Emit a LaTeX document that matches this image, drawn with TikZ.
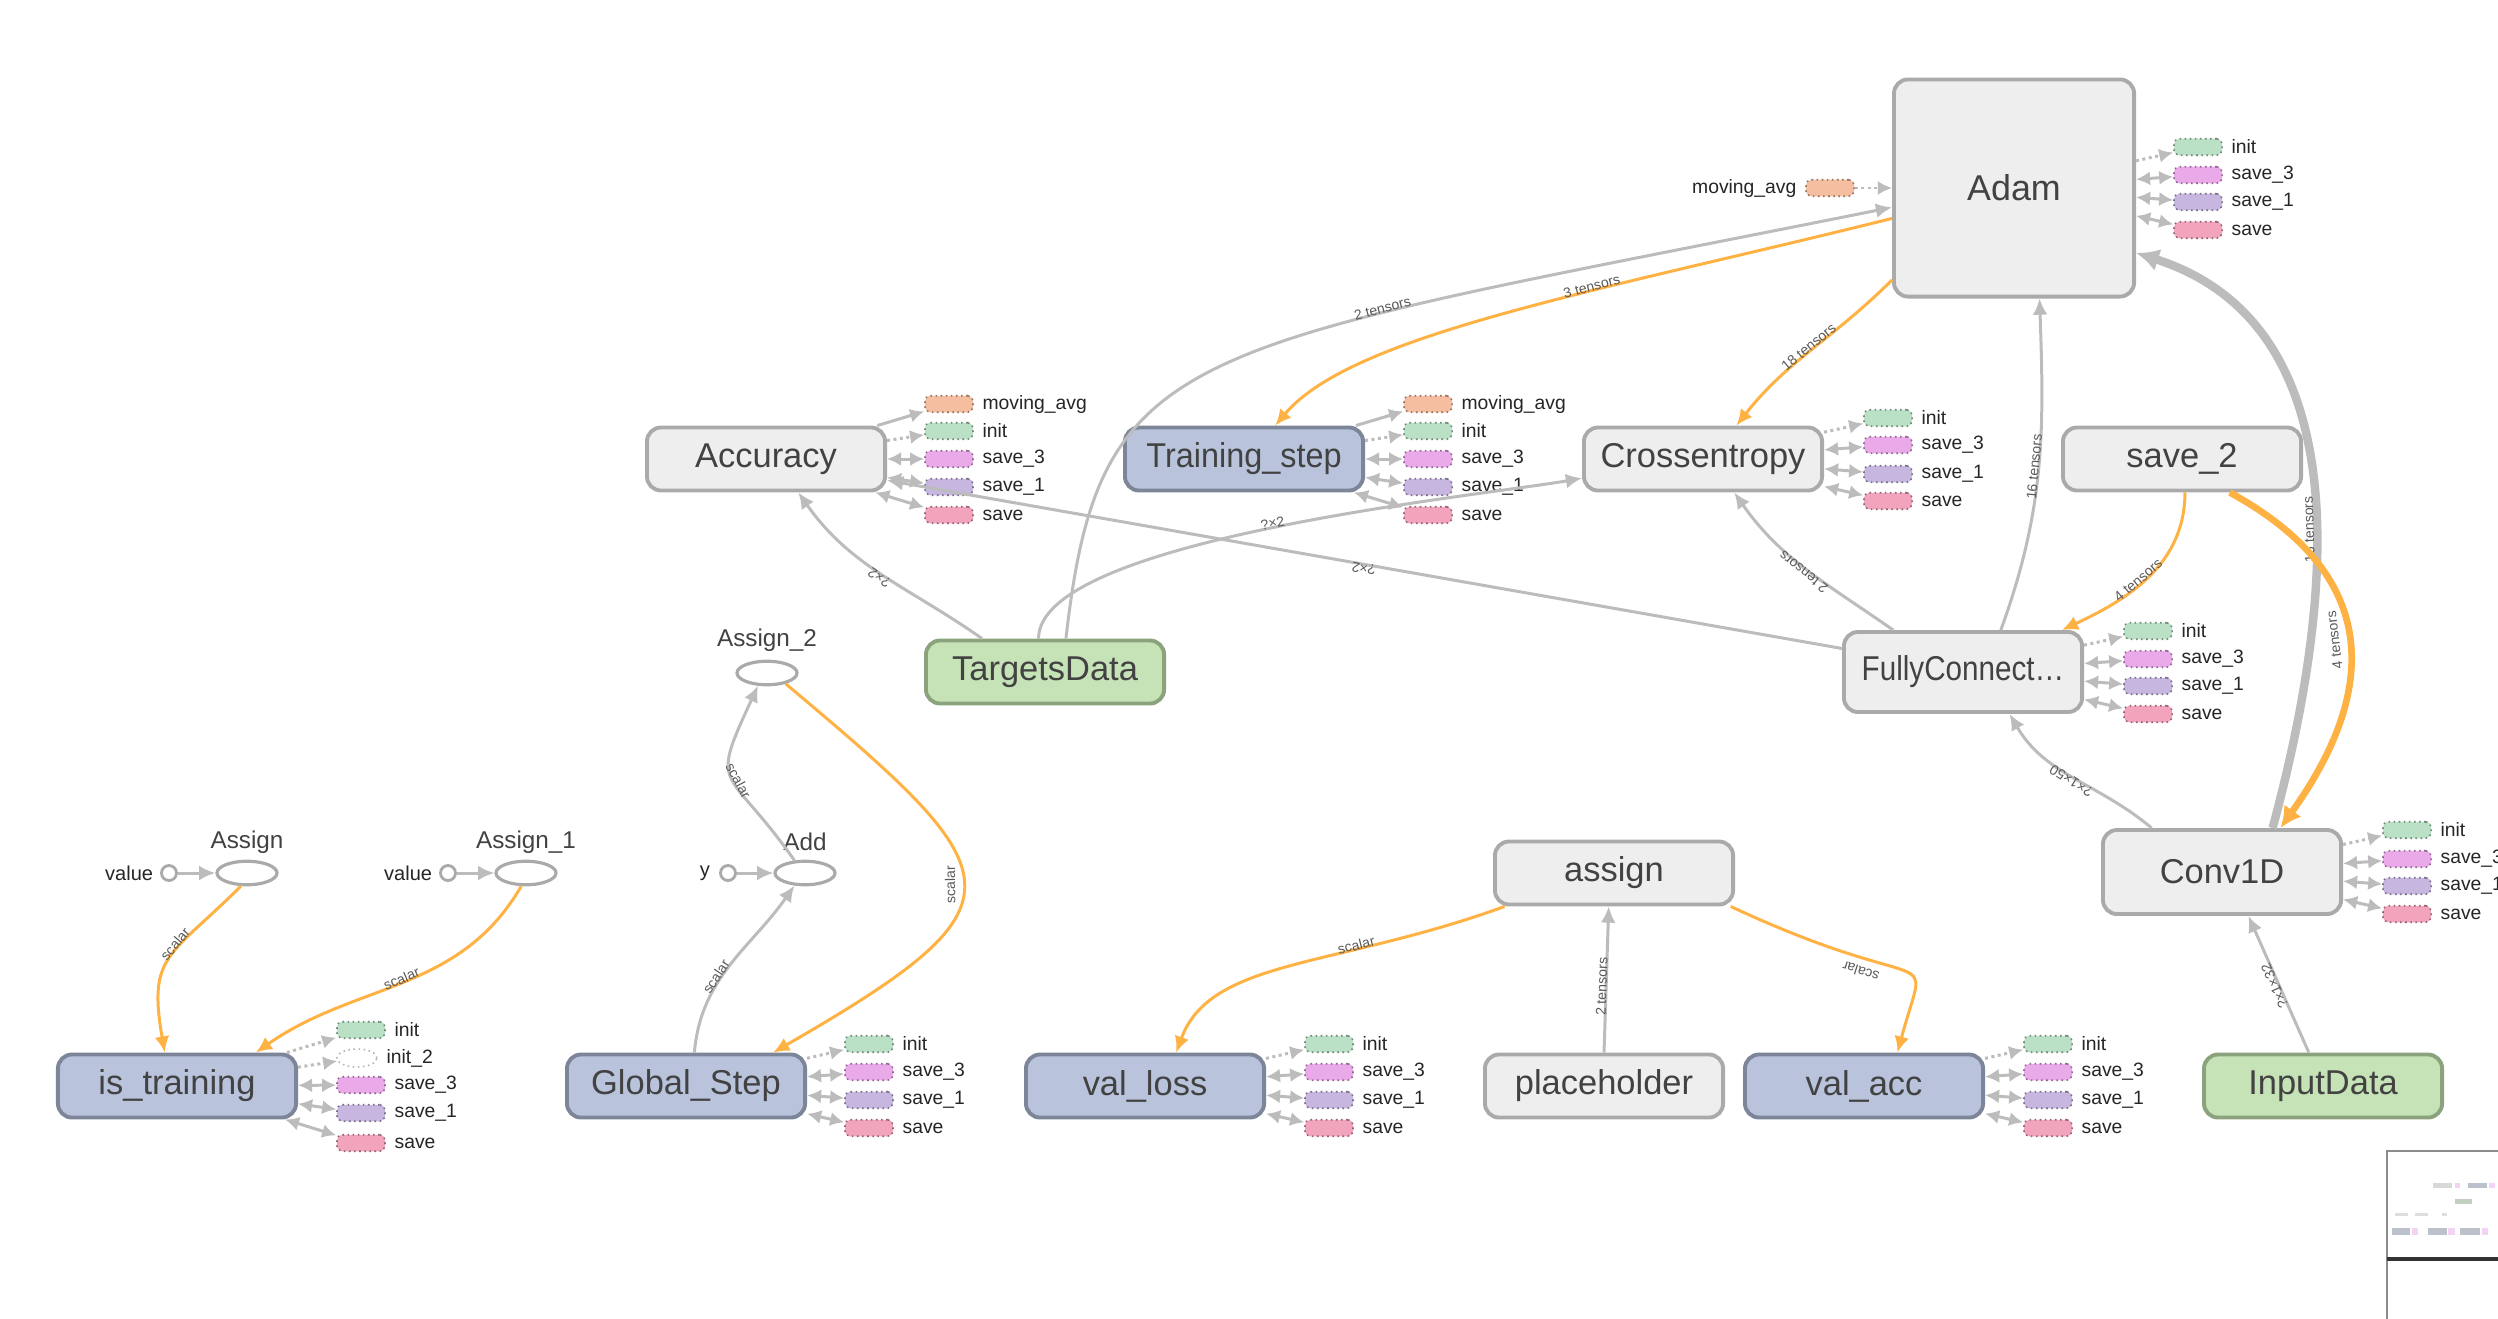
\documentclass[tikz,border=0pt]{standalone}
\usepackage{fontspec}
\setmainfont{Liberation Sans}
\usepackage{xcolor}
\usepackage{graphicx}
\usepackage{tikz}
\usetikzlibrary{shapes.geometric,arrows.meta,positioning}

\definecolor{opfill}{RGB}{238,238,238}
\definecolor{opline}{RGB}{170,170,170}
\definecolor{varfill}{RGB}{185,196,220}
\definecolor{varline}{RGB}{125,133,152}
\definecolor{datafill}{RGB}{198,226,183}
\definecolor{dataline}{RGB}{139,163,124}
\definecolor{nodetext}{RGB}{66,66,66}
\definecolor{edgegray}{RGB}{188,188,188}
\definecolor{edgeorange}{RGB}{255,178,68}
\definecolor{labelgray}{RGB}{90,90,90}
\definecolor{annMavg}{RGB}{245,190,160}
\definecolor{annInit}{RGB}{186,224,198}
\definecolor{annSaveC}{RGB}{234,170,234}
\definecolor{annSaveA}{RGB}{199,183,224}
\definecolor{annSave}{RGB}{243,164,189}

\newcommand{\nodefont}{\fontsize{9.8}{11}\selectfont}
\newcommand{\bignodefont}{\fontsize{10.2}{12}\selectfont}
\newcommand{\annotfont}{\fontsize{5.5}{6}\selectfont}
\newcommand{\edgefont}{\fontsize{4}{4.5}\selectfont}
\newcommand{\constfont}{\fontsize{6.9}{8}\selectfont}
\newcommand{\portfont}{\fontsize{5.7}{6.5}\selectfont}

\tikzstyle{node:op}=[rectangle,rounded corners=4pt,draw=opline,fill=opfill,line width=1.1pt,minimum width=2.38cm,minimum height=0.63cm,inner sep=1pt,font=\nodefont,text=nodetext]
\tikzstyle{node:var}=[node:op,draw=varline,fill=varfill]
\tikzstyle{node:data}=[node:op,draw=dataline,fill=datafill]
\tikzstyle{node:annot}=[rectangle,rounded corners=1.5pt,densely dotted,line width=0.45pt,minimum width=0.48cm,minimum height=0.165cm,inner sep=0pt]
\tikzstyle{node:annotlabel}=[anchor=west,font=\annotfont,inner sep=0pt,text=black!85]
\tikzstyle{node:const}=[ellipse,draw=opline,fill=white,line width=0.9pt,minimum width=0.6cm,minimum height=0.235cm,inner sep=0pt]
\tikzstyle{node:constlabel}=[font=\constfont,text=nodetext,inner sep=0pt]
\tikzstyle{node:port}=[circle,draw=opline,fill=white,line width=0.8pt,minimum size=0.15cm,inner sep=0pt]
\tikzstyle{node:portlabel}=[font=\portfont,text=black!85,inner sep=0pt]
\tikzstyle{draw:edge}=[-{Latex[length=4.6pt,width=4.2pt]},line width=0.85pt,edgegray]
\tikzstyle{draw:ref}=[draw:edge,edgeorange]
\tikzstyle{draw:thick}=[-{Latex[length=6.5pt,width=6.5pt]},line width=2.4pt,edgegray]
\tikzstyle{draw:thickref}=[-{Latex[length=6pt,width=6pt]},line width=1.9pt,edgeorange]
\tikzstyle{draw:control}=[-{Latex[length=4pt,width=4pt]},densely dotted,line width=0.85pt,edgegray]
\tikzstyle{draw:both}=[{Latex[length=4pt,width=4pt]}-{Latex[length=4pt,width=4pt]},line width=0.85pt,edgegray]
\tikzstyle{draw:out}=[-{Latex[length=4pt,width=4pt]},line width=0.85pt,edgegray]
\tikzstyle{edge:label}=[font=\edgefont,text=labelgray,inner sep=0.6pt,sloped,above=-1.2pt]
\tikzstyle{edge:flip}=[edge:label,allow upside down]

\begin{document}
\begin{tikzpicture}[x=0.01cm,y=0.01cm]
        \useasboundingbox (0,0) rectangle (2498,-1318);
        \fill[white] (0,0) rectangle (2498,-1318);

        % Optimizer, metrics and losses
        \node[node:op,minimum width=2.4cm,minimum height=2.17cm,font=\bignodefont] (Adam) at (2014,-188) {Adam};
        \node[node:op] (Accuracy) at (766,-459) {Accuracy};
        \node[node:var] (Training) at (1244,-459) {\scalebox{0.94}[1]{Training\_step}};
        \node[node:op] (Cross) at (1703,-459) {Crossentropy};
        \node[node:op] (Save2) at (2182,-459) {save\_2};

        % Model and data
        \node[node:data] (Targets) at (1045,-672) {TargetsData};
        \node[node:op,minimum height=0.8cm] (Fully) at (1963,-672) {\scalebox{0.86}[1]{FullyConnect…}};
        \node[node:op,minimum height=0.84cm] (Conv) at (2222,-872) {Conv1D};
        \node[node:data] (Input) at (2323,-1086) {InputData};

        % Validation summaries
        \node[node:op] (assign) at (1614,-873) {assign};
        \node[node:op] (placeholder) at (1604,-1086) {placeholder};
        \node[node:var] (valloss) at (1145,-1086) {val\_loss};
        \node[node:var] (valacc) at (1864,-1086) {val\_acc};

        % Counters
        \node[node:var] (global) at (686,-1086) {Global\_Step};
        \node[node:var] (istraining) at (177,-1086) {is\_training};

        \node[node:const] (Assign) at (247,-873) {};
        \node[node:const] (Assign1) at (526,-873) {};
        \node[node:const] (Add) at (805,-873) {};
        \node[node:const] (Assign2) at (767,-673) {};
        \node[node:constlabel] (Assign-t) at (247,-842) {Assign};
        \node[node:constlabel] (Assign1-t) at (526,-842) {Assign\_1};
        \node[node:constlabel] (Add-t) at (805,-842) {Add};
        \node[node:constlabel] (Assign2-t) at (767,-640) {Assign\_2};

        \node[node:port] (value1) at (169,-873) {};
        \node[node:port] (value2) at (448,-873) {};
        \node[node:port] (yport) at (728,-873) {};
        \node[node:portlabel,left=1.8pt of value1] (value1-t) {value};
        \node[node:portlabel,left=1.8pt of value2] (value2-t) {value};
        \node[node:portlabel,left=2.4pt of yport] (yport-t) {y};

        % Annotations of Adam
        \node[node:annot,fill=annMavg,draw=annMavg!60!black] (Adam-mavg) at (1830,-188) {};
        \node[node:annotlabel,anchor=east] (Adam-mavg-t) at ([xshift=-2.3pt]Adam-mavg.west) {moving\_avg};
        \foreach \k/\lab/\col/\sty/\y in {1/init/annInit/draw:control/-147,2/save\_3/annSaveC/draw:both/-175,3/save\_1/annSaveA/draw:both/-202,4/save/annSave/draw:both/-230} {
                \node[node:annot,fill=\col,draw=\col!60!black] (Adam-\k) at (2198,\y) {};
                \node[node:annotlabel] (Adam-\k-t) at ([xshift=2.3pt]Adam-\k.east) {\lab};
                \draw[\sty] (Adam) -- (Adam-\k);
            }

        % Annotations of Accuracy and Training_step
        \foreach \k/\lab/\col/\sty/\y in {1/moving\_avg/annMavg/draw:out/-404,2/init/annInit/draw:control/-431,3/save\_3/annSaveC/draw:both/-459,4/save\_1/annSaveA/draw:both/-487,5/save/annSave/draw:both/-515} {
                \node[node:annot,fill=\col,draw=\col!60!black] (Acc-\k) at (949,\y) {};
                \node[node:annotlabel] (Acc-\k-t) at ([xshift=2.3pt]Acc-\k.east) {\lab};
                \draw[\sty] (Accuracy) -- (Acc-\k);
                \node[node:annot,fill=\col,draw=\col!60!black] (Train-\k) at (1428,\y) {};
                \node[node:annotlabel] (Train-\k-t) at ([xshift=2.3pt]Train-\k.east) {\lab};
                \draw[\sty] (Training) -- (Train-\k);
            }

        % Annotations of Crossentropy, FullyConnect and Conv1D
        \foreach \k/\lab/\col/\sty/\y in {1/init/annInit/draw:control/-418,2/save\_3/annSaveC/draw:both/-445,3/save\_1/annSaveA/draw:both/-474,4/save/annSave/draw:both/-501} {
                \node[node:annot,fill=\col,draw=\col!60!black] (Cross-\k) at (1888,\y) {};
                \node[node:annotlabel] (Cross-\k-t) at ([xshift=2.3pt]Cross-\k.east) {\lab};
                \draw[\sty] (Cross) -- (Cross-\k);
            }
        \foreach \k/\lab/\col/\sty/\y in {1/init/annInit/draw:control/-631,2/save\_3/annSaveC/draw:both/-659,3/save\_1/annSaveA/draw:both/-686,4/save/annSave/draw:both/-714} {
                \node[node:annot,fill=\col,draw=\col!60!black] (Fully-\k) at (2148,\y) {};
                \node[node:annotlabel] (Fully-\k-t) at ([xshift=2.3pt]Fully-\k.east) {\lab};
                \draw[\sty] (Fully) -- (Fully-\k);
            }
        \foreach \k/\lab/\col/\sty/\y in {1/init/annInit/draw:control/-830,2/save\_3/annSaveC/draw:both/-859,3/save\_1/annSaveA/draw:both/-886,4/save/annSave/draw:both/-914} {
                \node[node:annot,fill=\col,draw=\col!60!black] (Conv-\k) at (2407,\y) {};
                \node[node:annotlabel] (Conv-\k-t) at ([xshift=2.3pt]Conv-\k.east) {\lab};
                \draw[\sty] (Conv) -- (Conv-\k);
            }

        % Annotations of the bottom row
        \foreach \k/\lab/\col/\sty/\y in {1/init/annInit/draw:control/-1044,2/save\_3/annSaveC/draw:both/-1072,3/save\_1/annSaveA/draw:both/-1100,4/save/annSave/draw:both/-1128} {
                \node[node:annot,fill=\col,draw=\col!60!black] (Global-\k) at (869,\y) {};
                \node[node:annotlabel] (Global-\k-t) at ([xshift=2.3pt]Global-\k.east) {\lab};
                \draw[\sty] (global) -- (Global-\k);
                \node[node:annot,fill=\col,draw=\col!60!black] (Loss-\k) at (1329,\y) {};
                \node[node:annotlabel] (Loss-\k-t) at ([xshift=2.3pt]Loss-\k.east) {\lab};
                \draw[\sty] (valloss) -- (Loss-\k);
                \node[node:annot,fill=\col,draw=\col!60!black] (Acc2-\k) at (2048,\y) {};
                \node[node:annotlabel] (Acc2-\k-t) at ([xshift=2.3pt]Acc2-\k.east) {\lab};
                \draw[\sty] (valacc) -- (Acc2-\k);
            }
        \foreach \k/\lab/\col/\sty/\y in {1/init/annInit/draw:control/-1030,3/save\_3/annSaveC/draw:both/-1085,4/save\_1/annSaveA/draw:both/-1113,5/save/annSave/draw:both/-1143} {
                \node[node:annot,fill=\col,draw=\col!60!black] (Train2-\k) at (361,\y) {};
                \node[node:annotlabel] (Train2-\k-t) at ([xshift=2.3pt]Train2-\k.east) {\lab};
                \draw[\sty] (istraining) -- (Train2-\k);
            }
        \node[ellipse,draw=black!30,densely dotted,fill=white,line width=0.45pt,minimum width=0.4cm,minimum height=0.18cm,inner sep=0pt] (Train2-2) at (357,-1058) {};
        \node[node:annotlabel] (Train2-2-t) at ([xshift=2.3pt]Train2-2.east) {init\_2};
        \draw[draw:control] (istraining) -- (Train2-2);

        % Edges into Adam
        \draw[draw:control] (Adam-mavg) -- (Adam);
        \draw[draw:edge] (Targets.58) .. controls (1100,-340) and (1180,-350) .. (Adam.189) node[edge:label,pos=.68] {2 tensors};
        \draw[draw:edge] (Fully.48) to[out=70,in=-88] node[edge:flip] {16 tensors} (Adam.-77);
        \draw[draw:thick] (Conv.41) .. controls (2345,-560) and (2345,-320) .. (Adam.-28) node[edge:flip,pos=.4] {16 tensors};

        % Edges out of Adam
        \draw[draw:ref] (Adam.194) to[out=194,in=50,out distance=3cm,in distance=1.2cm] node[edge:label,pos=.37] {3 tensors} (Training.47);
        \draw[draw:ref] (Adam.217) to[out=225,in=52] node[edge:label] {18 tensors} (Cross.45);

        % Targets, model and saver
        \draw[draw:edge] (Targets.152) to[out=145,in=-55] node[edge:flip] {?×2} (Accuracy.-46);
        \draw[draw:edge] (Targets.101) to[out=90,in=190,looseness=0.45] node[edge:label] {?×2} (Cross.189);
        \draw[draw:edge] (Fully.169) -- node[edge:flip] {?×2} (Accuracy.-10);
        \draw[draw:edge] (Fully.149) to[out=145,in=-55] node[edge:flip] {2 tensors} (Cross.-47);
        \draw[draw:edge] (Conv.148) to[out=140,in=-60] node[edge:flip] {?×1×50} (Fully.-42);
        \draw[draw:edge] (Input.113) -- node[edge:flip] {?×1×32} (Conv.-59);
        \draw[draw:ref] (Save2.-85) to[out=-90,in=25] node[edge:label,pos=.55] {4 tensors} (Fully.23);
        \draw[draw:thickref] (Save2.-35) .. controls (2390,-580) and (2372,-700) .. (Conv.37) node[edge:flip,rotate=180,pos=.48] {4 tensors};

        % Validation edges
        \draw[draw:edge] (placeholder.north) -- node[edge:flip,pos=.45] {2 tensors} (assign.-99);
        \draw[draw:ref] (assign.197) to[out=200,in=70,out distance=1.8cm,in distance=1cm] node[edge:label,pos=.32] {scalar} (valloss.47);
        \draw[draw:ref] (assign.-16) to[out=-25,in=75,out distance=2.3cm,in distance=1.2cm] node[edge:flip,rotate=180,pos=.3] {scalar} (valacc.45);

        % Counter edges
        \draw[draw:edge] (value1) -- (Assign);
        \draw[draw:edge] (value2) -- (Assign1);
        \draw[draw:edge] (yport) -- (Add);
        \draw[draw:ref] (Assign.-115) to[out=-135,in=100,looseness=1.4] node[edge:label,pos=.4] {scalar} (istraining.110);
        \draw[draw:ref] (Assign1.-110) to[out=-120,in=35] node[edge:label] {scalar} (istraining.23);
        \draw[draw:edge] (global.76) to[out=85,in=-125] node[edge:label,pos=.4] {scalar} (Add.-130);
        \draw[draw:edge] (Add.130) to[out=125,in=-115,looseness=1.7] node[edge:label,pos=.45] {scalar} (Assign2.-125);
        \draw[draw:ref] (Assign2.-30) to[out=-40,in=30,out distance=3cm,in distance=3cm] node[edge:flip,rotate=180] {scalar} (global.21);

        % Minimap
        \draw[draw=black!45,fill=white,line width=0.5pt] (2387,-1151) rectangle (2560,-1400);
        \foreach \xa/\xb/\ya/\yb/\c in {2433/2452/1183/1188/black!30,2455/2460/1183/1188/annSaveC,2468/2487/1183/1188/varline,2489/2495/1183/1188/annSaveC,2455/2472/1199/1204/dataline,2395/2408/1213/1216/black!25,2415/2428/1213/1216/black!25,2442/2447/1213/1216/black!25,2392/2410/1228/1235/varline,2412/2418/1228/1235/annSaveC,2428/2447/1228/1235/varline,2448/2455/1228/1235/annSaveC,2460/2480/1228/1235/varline,2482/2488/1228/1235/annSaveC} {
                \fill[\c,opacity=.5] (\xa,-\ya) rectangle (\xb,-\yb);
            }
        \draw[black!80,line width=1pt] (2387,-1259) -- (2560,-1259);

    \end{tikzpicture}
\end{document}
